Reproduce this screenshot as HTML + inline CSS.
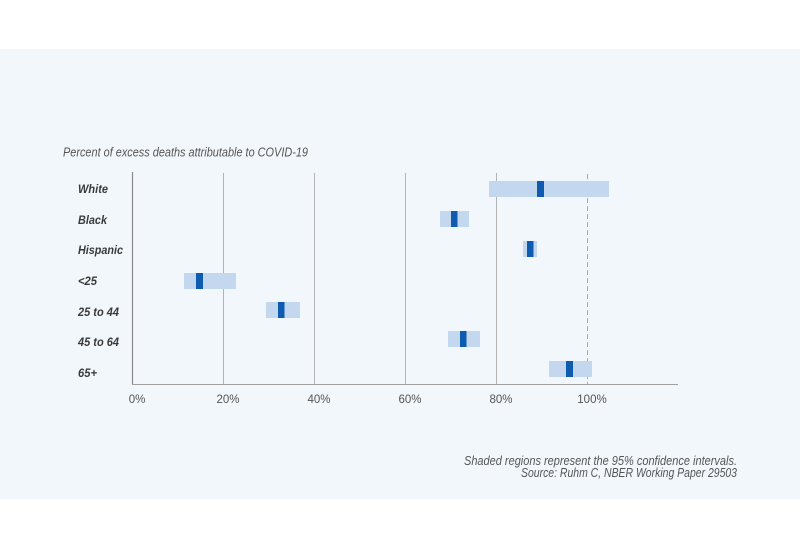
<!DOCTYPE html>
<html><head><meta charset="utf-8"><style>
html,body{margin:0;padding:0;background:#fff;}
svg{display:block;}
text{font-family:"Liberation Sans",sans-serif;}
</style></head><body>
<svg width="800" height="550" viewBox="0 0 800 550" xmlns="http://www.w3.org/2000/svg">
<rect x="0" y="0" width="800" height="550" fill="#ffffff"/>
<rect x="0" y="49" width="800" height="450" fill="#f2f7fb"/>
<text x="63" y="156.3" font-size="12.5" font-style="italic" fill="#555" textLength="245" lengthAdjust="spacingAndGlyphs">Percent of excess deaths attributable to COVID-19</text>
<g stroke="#b4b4b4" stroke-width="1">
<line x1="223.5" y1="173" x2="223.5" y2="384"/>
<line x1="314.5" y1="173" x2="314.5" y2="384"/>
<line x1="405.5" y1="173" x2="405.5" y2="384"/>
<line x1="496.5" y1="173" x2="496.5" y2="384"/>
</g>
<line x1="587.5" y1="174" x2="587.5" y2="384" stroke="#a8a8a8" stroke-width="1" stroke-dasharray="5,3"/>
<g fill="#c3d8ee">
<rect x="489" y="181" width="120" height="16"/>
<rect x="440" y="211" width="29" height="16"/>
<rect x="523" y="241" width="14" height="16"/>
<rect x="184" y="273" width="52" height="16"/>
<rect x="266" y="302" width="34" height="16"/>
<rect x="448" y="331" width="32" height="16"/>
<rect x="549" y="361" width="43" height="16"/>
</g>
<g fill="#0f5bb0">
<rect x="537" y="181" width="7" height="16"/>
<rect x="451" y="211" width="6.5" height="16"/>
<rect x="527" y="241" width="6.5" height="16"/>
<rect x="196" y="273" width="7" height="16"/>
<rect x="278" y="302" width="6.5" height="16"/>
<rect x="460" y="331" width="6.5" height="16"/>
<rect x="566" y="361" width="7" height="16"/>
</g>
<line x1="132.5" y1="172" x2="132.5" y2="384.5" stroke="#8a8a8a" stroke-width="1.2"/>
<line x1="132" y1="384.5" x2="678" y2="384.5" stroke="#a0a0a0" stroke-width="1"/>
<g font-size="12" font-weight="bold" font-style="italic" fill="#3a3a3a">
<text x="78" y="193" textLength="30" lengthAdjust="spacingAndGlyphs">White</text>
<text x="78" y="224" textLength="29" lengthAdjust="spacingAndGlyphs">Black</text>
<text x="78" y="254" textLength="45" lengthAdjust="spacingAndGlyphs">Hispanic</text>
<text x="78" y="285" textLength="19" lengthAdjust="spacingAndGlyphs">&lt;25</text>
<text x="78" y="316" textLength="41" lengthAdjust="spacingAndGlyphs">25 to 44</text>
<text x="78" y="346" textLength="41" lengthAdjust="spacingAndGlyphs">45 to 64</text>
<text x="78" y="377" textLength="19" lengthAdjust="spacingAndGlyphs">65+</text>
</g>
<g font-size="11.5" fill="#555" text-anchor="middle">
<text x="137" y="403">0%</text>
<text x="228" y="403">20%</text>
<text x="319" y="403">40%</text>
<text x="410" y="403">60%</text>
<text x="501" y="403">80%</text>
<text x="592" y="403">100%</text>
</g>
<g font-size="12.5" font-style="italic" fill="#555" text-anchor="end">
<text x="737" y="465" textLength="273" lengthAdjust="spacingAndGlyphs">Shaded regions represent the 95% confidence intervals.</text>
<text x="737" y="477" textLength="216" lengthAdjust="spacingAndGlyphs">Source: Ruhm C, NBER Working Paper 29503</text>
</g>
</svg>
</body></html>
